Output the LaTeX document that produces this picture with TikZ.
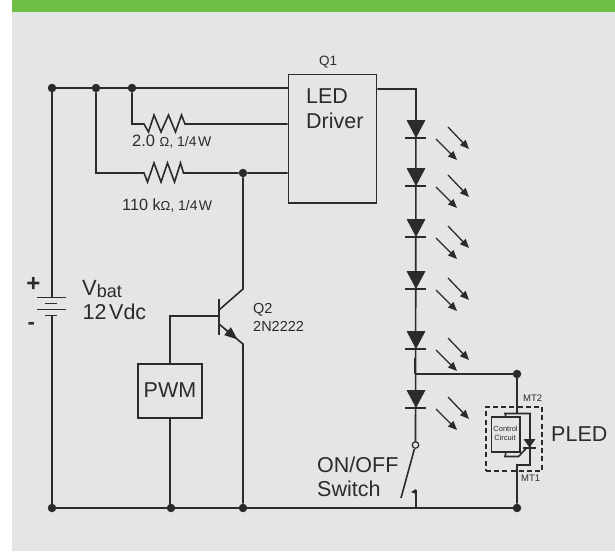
\documentclass[tikz,border=0pt]{standalone}
\usepackage{fontspec}
\setmainfont{Liberation Sans}
\usetikzlibrary{arrows.meta}
\definecolor{ink}{HTML}{2B2B2C}
\definecolor{bgpanel}{HTML}{E4E5E7}
\definecolor{band}{HTML}{6FBE44}
\newcommand{\fs}[1]{\fontsize{#1}{#1}\selectfont}
\tikzset{
  wire/.style={draw=ink,line width=1.6pt,line join=miter},
  box/.style={draw=ink,line width=1.6pt,inner sep=0pt,rectangle},
  dotn/.style={circle,fill=ink,inner sep=0pt,minimum size=8.5pt},
  lab/.style={text=ink,inner sep=0pt,anchor=base west},
  ray/.style={draw=ink,line width=1.3pt,-{Triangle[length=9pt,width=7.5pt]}},
  plate/.style={draw=ink,line width=1.7pt},
}
\begin{document}
\begin{tikzpicture}[x=1pt,y=-1pt]
\useasboundingbox (0,0) rectangle (615,551);
\fill[white] (0,0) rectangle (615,551);
\fill[bgpanel] (12,12) rectangle (615,551);
\fill[band] (12,0) rectangle (615,12);
% junctions
\node[dotn] (j1) at (52,88) {};
\node[dotn] (j2) at (96,88) {};
\node[dotn] (j3) at (132,88) {};
\node[dotn] (j4) at (243,173) {};
\node[dotn] (b1) at (52,508) {};
\node[dotn] (b2) at (171,508) {};
\node[dotn] (b3) at (243,508) {};
\node[dotn] (b4) at (517,508) {};
\node[dotn] (j5) at (517,374) {};
% boxes
\node[box,minimum width=88pt,minimum height=128.5pt] (q1) at (332.5,138.75) {};
\node[box,minimum width=64pt,minimum height=54pt] (pwm) at (170,391) {};
\node[lab,font=\fs{21.5}] (ledt) at (306,103) {LED};
\node[lab,font=\fs{21.5}] (drvt) at (306,128) {Driver};
\node[lab,font=\fs{13.5},anchor=base] (q1t) at (328,65.5) {Q1};
\node[font=\fs{21.5},text=ink,inner sep=0pt] (pwmt) at (170,390) {PWM};
% rails
\draw[wire] (j1) -- (j2) -- (j3) -- (j3 -| q1.west);
\draw[wire] (b1) -- (b2) -- (b3) -- (b4);
% resistors
\coordinate (r1) at (144,124);
\coordinate (r2) at (144,173);
\draw[wire] (j3) |- (r1) -- ++(4.5,8) -- ++(5.5,-17) -- ++(7,17) -- ++(7.5,-17) -- ++(7,17) -- ++(6,-17) -- ++(3.5,9) -- (r1 -| q1.west);
\draw[wire] (j2) |- (r2) -- ++(3.5,9) -- ++(6.5,-19) -- ++(7,19) -- ++(6.5,-19) -- ++(7,19) -- ++(6,-19) -- ++(3,10) -- (j4) -- (j4 -| q1.west);
\node[lab,font=\fs{16.5}] (r1t) at (132,146.7) {2.0 {\fs{13}Ω}{\fs{14}, 1/4\hspace{0.1em}W}};
\node[lab,font=\fs{16.2}] (r2t) at (122,210) {110 k{\fs{13}Ω}{\fs{14}, 1/4\hspace{0.1em}W}};
% battery
\coordinate (bt) at (52,297.5);
\coordinate (bb) at (52,316);
\draw[wire] (j1) -- (bt);
\draw[wire] (bb) -- (b1);
\draw[plate] (37.3,297.5) -- (66,297.5);
\draw[plate] (45,303.5) -- (57,303.5);
\draw[plate] (37.3,309.5) -- (66,309.5);
\draw[plate] (45,315.5) -- (57,315.5);
\node[font=\bfseries\fs{24},text=ink,inner sep=0pt] (plus) at (33.3,284) {+};
\node[font=\bfseries\fs{22},text=ink,inner sep=0pt] (minus) at (31.3,325.5) {-};
\node[lab,font=\fs{22}] (vbat) at (82,295) {V{\fs{18}\raisebox{-2.5pt}{bat}}};
\node[lab,font=\fs{21.5}] (v12) at (82.5,319.3) {12\hspace{0.12em}Vdc};
% transistor
\coordinate (tb) at (219,316);
\coordinate (tc) at (243,289);
\coordinate (te) at (243,344);
\draw[line width=1.6pt,draw=ink] (219,299) -- (219,335);
\draw[wire] (j4) -- (tc) -- (219,310);
\draw[wire] (219,324) -- (te) -- (b3);
\draw[draw=ink,line width=1.3pt,-{Triangle[length=13pt,width=10pt]}] (225,329) -- (237.5,339.5);
\draw[wire] (tb) -| (pwm.north);
\draw[wire] (pwm.south) -- (pwm.south |- b2);
\node[lab,font=\fs{14.5}] (q2t) at (253,313) {Q2};
\node[lab,font=\fs{14.5}] (q2n) at (253,331) {2N2222};
% LED chain
\coordinate (out) at (416,89);
\coordinate (sw) at (415.5,445);
\draw[wire] (q1.east |- out) -- (out) -- (sw);
\foreach \b in {138,186,237,289,349,408}{
  \fill[ink] (406.5,\b-18) -- (425.5,\b-18) -- (416,\b) -- cycle;
  \draw[plate] (405,\b) -- (426,\b);
  \draw[ray] (448,\b-11) -- (469,\b+11);
  \draw[ray] (436,\b+1) -- (457,\b+22);
}
\draw[wire] (414.7,358) -- (414.7,374);
\draw[wire] (out |- j5) -- (j5);
% switch
\node[circle,draw=ink,fill=bgpanel,line width=1.2pt,inner sep=0pt,minimum size=6.5pt] (swc) at (sw) {};
\coordinate (arm) at (401,498);
\draw[wire] (swc) -- (arm);
\coordinate (st) at (416,490);
\draw[wire] (st) -- (st |- b4);
\fill[ink] (416,489) -- (411,492) -- (416,494) -- cycle;
\node[lab,font=\fs{21.5}] (on) at (317,472) {ON/OFF};
\node[lab,font=\fs{21.5}] (swt) at (317,496) {Switch};
% PLED
\draw[wire] (j5) -- (517,413.5);
\node[draw=ink,line width=1.6pt,dash pattern=on 5pt off 3.2pt,minimum width=56pt,minimum height=64pt,inner sep=0pt] (pl) at (514,439) {};
\node[box,line width=1.8pt,minimum width=28.5pt,minimum height=35pt] (cc) at (505.75,434.5) {};
\draw[wire] (cc.north) -- (505,413.5) -- (530,413.5) -- (530,465) -- (517,465) -- (b4);
\draw[wire] (cc.south) -- (505,456.5) -- (518.5,456.5) -- (527,447.5);
\fill[ink] (523.5,439) -- (535.5,439) -- (529.5,447.5) -- cycle;
\draw[wire] (523,448) -- (536,448);
\node[font=\fs{7.5},text=ink,inner sep=0pt,anchor=base] (c1) at (505.5,431.5) {Control};
\node[font=\fs{7.5},text=ink,inner sep=0pt,anchor=base] (c2) at (505,440) {Circuit};
\node[lab,font=\fs{9.5}] (mt2) at (523,401.5) {MT2};
\node[lab,font=\fs{9.5}] (mt1) at (521,481.5) {MT1};
\node[lab,font=\fs{21.5}] (pt) at (551,441.5) {PLED};
\end{tikzpicture}
\end{document}
